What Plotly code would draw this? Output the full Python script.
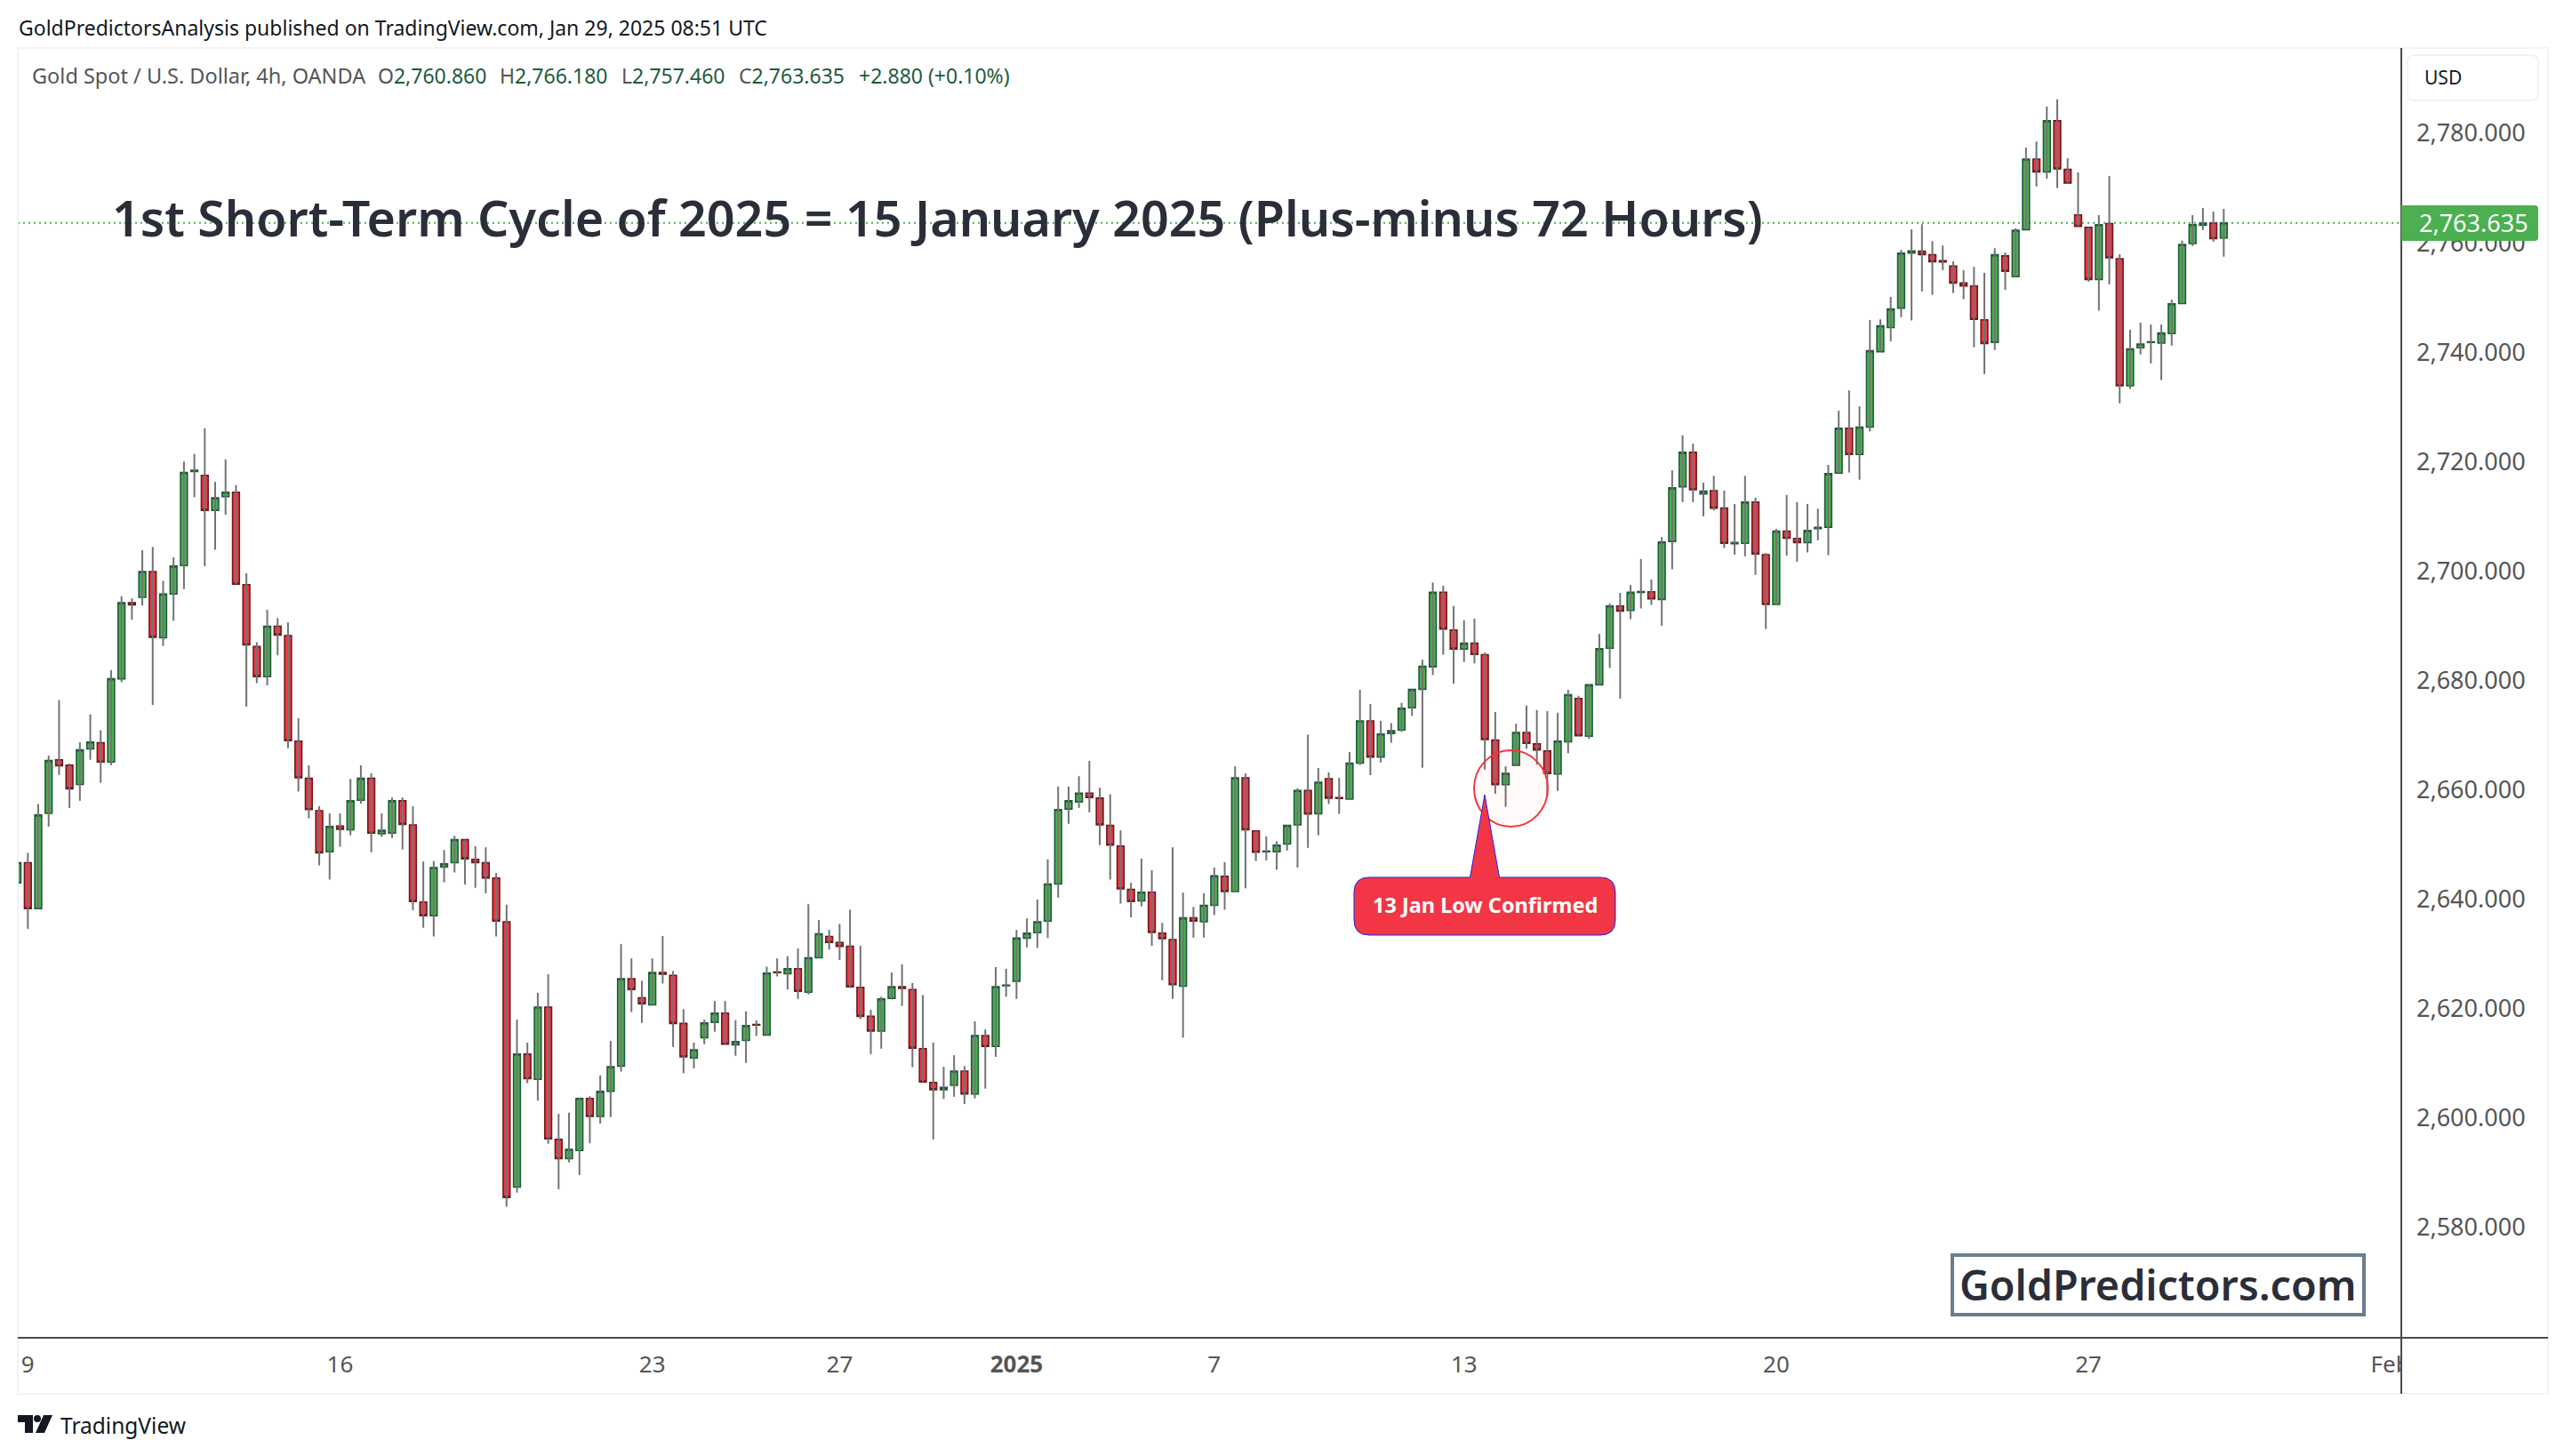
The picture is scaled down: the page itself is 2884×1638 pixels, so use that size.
import plotly.graph_objects as go

# XAUUSD 4h candles
opens = [2643.0,2646.7,2638.3,2655.7,2665.5,2664.5,2661.0,2667.5,2668.6,2665.1,
2680.3,2694.2,2695.2,2699.9,2687.8,2695.8,2701.0,2718.2,2717.5,2711.1,
2713.6,2714.4,2697.5,2686.2,2680.7,2689.9,2688.2,2668.9,2662.1,2656.2,
2648.7,2653.4,2652.7,2658.1,2662.1,2652.0,2652.1,2658.0,2653.6,2639.5,
2637.0,2645.9,2646.7,2650.9,2647.3,2646.7,2643.9,2635.9,2587.4,2611.7,
2607.1,2620.3,2596.1,2592.6,2594.1,2603.6,2600.3,2604.9,2609.5,2625.5,
2622.0,2620.7,2626.6,2626.1,2617.3,2611.0,2614.7,2617.5,2619.2,2613.4,
2614.2,2617.1,2615.2,2626.7,2626.4,2627.3,2623.0,2629.3,2633.2,2632.1,
2631.4,2623.9,2618.6,2615.9,2621.9,2624.0,2623.5,2612.7,2606.5,2605.2,
2606.0,2608.6,2604.4,2615.1,2613.1,2624.2,2625.0,2632.9,2633.9,2636.0,
2642.8,2656.5,2657.8,2659.4,2658.5,2653.5,2649.75,2641.8,2639.7,2641.3,
2633.8,2632.65,2624.1,2636.6,2635.9,2638.9,2644.2,2641.4,2662.2,2652.5,
2648.7,2648.7,2650.1,2653.6,2659.9,2655.65,2662.05,2658.6,2658.3,2664.9,
2672.6,2666.0,2670.3,2670.95,2675.0,2678.4,2682.5,2696.1,2689.2,2685.75,
2686.8,2684.7,2669.1,2660.95,2664.5,2670.5,2668.4,2667.1,2662.9,2668.8,
2676.7,2669.8,2679.2,2685.9,2693.6,2692.8,2696.1,2696.2,2694.8,2705.4,
2715.4,2721.7,2714.1,2714.7,2711.5,2705.0,2705.05,2712.6,2703.0,2693.9,
2707.3,2705.95,2705.2,2707.75,2708.0,2717.9,2726.1,2721.3,2726.3,2740.1,
2744.5,2748.05,2758.1,2758.45,2757.8,2756.7,2755.75,2752.65,2752.1,2745.9,
2741.8,2757.6,2753.8,2762.4,2775.3,2772.95,2782.3,2773.4,2765.1,2762.8,
2753.3,2763.5,2757.1,2733.85,2740.8,2741.8,2741.65,2743.4,2748.9,2759.85,
2763.2,2763.6,2760.86]

highs = [2650.6,2648.5,2657.4,2666.25,2676.4,2664.8,2668.7,2673.8,2670.9,2681.9,
2695.4,2695.0,2703.8,2704.4,2698.2,2702.5,2720.0,2721.4,2726.1,2716.3,
2720.4,2715.7,2699.6,2687.0,2692.9,2691.4,2690.6,2673.1,2664.5,2657.0,
2655.7,2655.7,2662.0,2664.5,2663.0,2655.7,2658.6,2658.6,2657.0,2646.9,
2647.0,2649.0,2651.6,2650.9,2649.7,2649.5,2644.8,2639.0,2618.0,2613.8,
2622.9,2626.3,2600.8,2601.0,2603.8,2604.0,2607.8,2614.1,2631.8,2629.2,
2625.1,2629.2,2633.3,2626.9,2619.9,2613.8,2618.0,2621.4,2621.4,2617.9,
2619.5,2617.9,2627.7,2629.2,2629.6,2631.0,2639.1,2636.2,2634.4,2635.5,
2638.1,2631.5,2619.8,2622.2,2626.6,2628.1,2624.7,2622.5,2613.8,2609.4,
2611.5,2609.5,2617.7,2616.2,2627.6,2627.3,2634.4,2636.5,2639.95,2647.3,
2660.6,2660.6,2662.5,2665.3,2660.4,2659.2,2652.6,2643.0,2647.45,2645.3,
2635.7,2649.5,2641.2,2638.6,2641.1,2645.8,2646.8,2664.3,2663.0,2652.5,
2651.5,2650.6,2653.5,2660.3,2670.1,2664.0,2663.2,2662.2,2666.9,2678.3,
2675.7,2672.6,2672.2,2675.9,2678.35,2683.8,2697.9,2697.3,2693.6,2691.0,
2691.3,2685.1,2674.25,2664.3,2672.1,2675.4,2674.6,2674.4,2674.1,2678.3,
2677.2,2679.3,2688.5,2694.1,2696.0,2697.4,2702.2,2698.45,2706.2,2718.4,
2724.8,2723.3,2716.15,2717.4,2714.7,2712.25,2717.4,2713.4,2703.3,2707.7,
2713.9,2712.6,2712.25,2711.4,2719.4,2729.3,2733.0,2730.1,2745.9,2746.0,
2750.1,2758.7,2762.45,2763.4,2760.3,2759.5,2756.6,2755.0,2755.6,2754.5,
2759.0,2758.2,2762.65,2777.4,2778.5,2784.9,2786.2,2775.45,2772.85,2762.8,
2765.05,2772.2,2757.9,2744.1,2745.4,2745.05,2745.05,2749.6,2760.4,2765.05,
2766.35,2765.7,2766.18]

lows = [2627.5,2634.6,2638.3,2653.3,2662.75,2656.7,2658.0,2665.5,2661.3,2664.5,
2679.7,2691.1,2693.7,2675.5,2686.3,2690.9,2696.7,2713.5,2700.9,2703.9,
2710.3,2697.6,2675.2,2679.5,2679.1,2684.6,2667.6,2659.7,2654.8,2646.2,
2643.6,2649.6,2651.7,2657.5,2648.6,2651.4,2651.2,2649.1,2638.0,2634.8,
2633.2,2643.1,2644.9,2642.7,2642.1,2641.1,2633.2,2583.8,2586.4,2606.4,
2603.2,2595.3,2587.0,2591.9,2589.6,2595.4,2599.0,2600.2,2608.5,2619.4,
2617.4,2620.7,2624.6,2613.0,2608.2,2609.1,2613.5,2615.8,2613.5,2611.4,
2610.1,2615.0,2615.2,2625.9,2623.5,2621.8,2622.6,2629.3,2630.8,2628.9,
2623.8,2618.1,2611.7,2612.7,2621.7,2620.5,2609.3,2606.6,2596.1,2603.5,
2603.9,2602.6,2603.6,2605.4,2611.2,2622.2,2621.8,2631.2,2631.1,2632.9,
2640.3,2653.8,2656.7,2655.9,2649.9,2643.6,2639.2,2636.7,2638.7,2631.5,
2625.2,2621.8,2614.7,2633.0,2633.0,2637.1,2638.1,2641.4,2642.0,2647.0,
2647.1,2645.4,2648.9,2645.8,2649.4,2651.7,2657.4,2655.6,2658.3,2664.55,
2662.7,2665.0,2668.6,2670.6,2673.5,2664.05,2681.0,2684.7,2679.4,2683.4,
2683.1,2663.7,2659.3,2656.9,2664.5,2667.5,2664.6,2659.0,2659.8,2666.7,
2669.9,2669.3,2679.2,2682.3,2676.7,2691.2,2693.15,2693.8,2690.0,2700.3,
2712.6,2712.6,2710.0,2711.1,2704.2,2703.0,2702.7,2699.3,2689.4,2693.9,
2702.8,2701.7,2703.4,2705.6,2702.9,2717.9,2718.0,2716.7,2725.5,2740.1,
2742.0,2746.4,2745.8,2751.1,2750.5,2755.0,2750.8,2749.7,2740.9,2736.0,
2740.4,2751.4,2753.8,2762.4,2770.3,2771.7,2770.0,2770.9,2763.0,2752.9,
2747.6,2752.4,2730.65,2733.3,2739.6,2737.95,2734.9,2741.2,2748.9,2759.4,
2762.3,2760.2,2757.46]

closes = [2646.7,2638.3,2655.4,2665.35,2664.4,2660.2,2667.3,2668.75,2665.1,2680.3,
2694.2,2693.8,2699.9,2687.9,2695.8,2700.9,2718.0,2718.4,2711.1,2713.4,
2714.4,2697.6,2686.5,2680.7,2689.9,2688.3,2669.0,2662.2,2656.4,2648.5,
2653.3,2652.8,2658.0,2662.1,2652.1,2652.6,2658.0,2653.7,2639.6,2637.0,
2645.8,2646.5,2650.9,2647.4,2646.7,2643.9,2636.0,2585.5,2611.7,2607.2,
2620.3,2596.2,2592.6,2594.3,2603.6,2600.3,2604.9,2609.4,2625.5,2623.5,
2620.9,2626.6,2626.3,2617.3,2611.2,2612.5,2617.4,2619.2,2613.5,2614.0,
2616.9,2617.0,2626.5,2626.6,2627.3,2623.2,2629.3,2633.7,2632.1,2631.4,
2624.0,2618.6,2615.9,2621.8,2624.0,2623.7,2612.8,2606.6,2605.2,2605.6,
2608.6,2604.4,2615.1,2613.1,2624.0,2624.3,2632.9,2633.8,2635.9,2642.8,
2656.4,2658.0,2659.4,2658.6,2653.6,2649.9,2641.9,2639.6,2641.3,2633.95,
2632.8,2624.4,2636.6,2636.0,2638.9,2644.3,2641.4,2662.2,2652.7,2648.6,
2648.8,2649.9,2653.5,2659.9,2655.6,2661.4,2658.5,2658.45,2664.9,2672.6,
2666.0,2670.2,2670.8,2674.9,2678.35,2682.6,2696.1,2689.4,2685.75,2686.8,
2684.75,2669.2,2660.95,2663.0,2670.5,2668.5,2667.3,2663.0,2668.9,2677.4,
2669.9,2679.2,2685.8,2693.6,2692.7,2696.1,2696.25,2694.9,2705.3,2715.2,
2721.7,2714.85,2714.6,2711.5,2705.05,2705.2,2712.6,2703.1,2693.9,2707.3,
2706.0,2705.2,2707.4,2707.97,2717.8,2726.1,2721.3,2726.3,2740.25,2744.8,
2747.9,2758.1,2758.5,2757.85,2756.55,2756.5,2752.65,2752.1,2746.0,2741.6,
2757.8,2754.8,2762.3,2775.3,2772.95,2782.3,2773.5,2770.9,2763.0,2753.3,
2763.3,2757.25,2733.85,2740.6,2741.5,2741.9,2743.5,2748.85,2759.7,2763.3,
2763.6,2760.75,2763.635]

tick_bars = [1, 31, 61, 79, 96, 115, 139, 169, 199, 228]
tick_labels = ['9', '16', '23', '27', '<b>2025</b>', '7', '13', '20', '27', 'Feb']
price_ticks = [2580, 2600, 2620, 2640, 2660, 2680, 2700, 2720, 2740, 2760, 2780]
last_price = 2763.635

FONT = 'Noto Sans'
GREEN = '#4caf50'
RED = '#f23645'
GRAY = '#555555'

# picture pixels to paper coordinates (plot area is 20..2701 by 54..1505)
def px(v):
    return (v - 20) / 2681

def py(v):
    return (1505 - v) / 1451

def rounded(x0, y0, x1, y1, r, left=True):
    rl = r if left else 0
    return (f'M {px(x0+rl)} {py(y0)} L {px(x1-r)} {py(y0)} Q {px(x1)} {py(y0)} {px(x1)} {py(y0+r)} '
            f'L {px(x1)} {py(y1-r)} Q {px(x1)} {py(y1)} {px(x1-r)} {py(y1)} L {px(x0+rl)} {py(y1)} '
            f'Q {px(x0)} {py(y1)} {px(x0)} {py(y1-rl)} L {px(x0)} {py(y0+rl)} Q {px(x0)} {py(y0)} {px(x0+rl)} {py(y0)} Z')

def label(text, x, y, size, color, anchor='left', weight=None):
    return dict(text=text, xref='paper', yref='paper', x=px(x), y=py(y), xanchor=anchor, yanchor='middle',
                showarrow=False, font=dict(family=FONT, size=size, color=color, weight=weight))

bars = list(range(len(opens)))
wick_x, wick_y = [], []
for i in bars:
    wick_x += [i, i, None]
    wick_y += [lows[i], highs[i], None]

fig = go.Figure()
fig.add_trace(go.Scatter(x=wick_x, y=wick_y, mode='lines', line=dict(color='#737373', width=2), hoverinfo='skip'))
fig.add_trace(go.Candlestick(
    x=bars, open=opens, close=closes,
    high=[max(a, b) for a, b in zip(opens, closes)],
    low=[min(a, b) for a, b in zip(opens, closes)],
    increasing=dict(fillcolor=GREEN, line=dict(color='#1e5b3a', width=1.6)),
    decreasing=dict(fillcolor=RED, line=dict(color='#6d1a1c', width=1.6)),
))

shapes = [
    # price line under the candles
    dict(type='line', xref='paper', yref='y', x0=0, x1=1, y0=last_price, y1=last_price, layer='below',
         line=dict(color=GREEN, width=2, dash='2px,4px')),
    # frame and axis lines
    dict(type='rect', xref='paper', yref='paper', x0=px(20), x1=px(2866), y0=py(54), y1=py(1568),
         line=dict(color='#f0f3fa', width=2)),
    # hides what runs past the axis at the bottom right ("Feb")
    dict(type='rect', xref='paper', yref='paper', x0=px(2702), x1=px(2865), y0=py(1506), y1=py(1567),
         fillcolor='white', line=dict(width=0)),
    dict(type='line', xref='paper', yref='paper', x0=px(20), x1=px(2866), y0=py(1505), y1=py(1505),
         line=dict(color='#4a4a4a', width=2)),
    dict(type='line', xref='paper', yref='paper', x0=px(2701), x1=px(2701), y0=py(54), y1=py(1568),
         line=dict(color='#4a4a4a', width=2)),
    # USD box
    dict(type='path', xref='paper', yref='paper', path=rounded(2708, 62, 2855, 113, 8),
         line=dict(color='#f0f3fa', width=2), fillcolor='white'),
    # last price tag
    dict(type='path', xref='paper', yref='paper', path=rounded(2701, 231, 2855, 271, 4, left=False),
         line=dict(width=0), fillcolor=GREEN),
    # circle round the low
    dict(type='circle', xref='paper', yref='paper', x0=px(1658), x1=px(1741), y0=py(844), y1=py(930),
         line=dict(color=RED, width=2), fillcolor='rgba(242,54,69,0.03)'),
    # callout
    dict(type='path', xref='paper', yref='paper',
         path=f'M {px(1653.5)} {py(987)} L {px(1670)} {py(894)} L {px(1686.5)} {py(987)} Z',
         line=dict(color='#2222ee', width=1), fillcolor=RED),
    dict(type='path', xref='paper', yref='paper', path=rounded(1523, 987, 1817, 1052, 17),
         line=dict(color='#2222ee', width=1), fillcolor=RED),
    dict(type='line', xref='paper', yref='paper', x0=px(1654), x1=px(1686), y0=py(987), y1=py(987),
         line=dict(color=RED, width=2)),
    # watermark box
    dict(type='rect', xref='paper', yref='paper', x0=px(2196), x1=px(2659), y0=py(1412), y1=py(1479),
         line=dict(color='#6a7d8e', width=4), fillcolor='white'),
    # TradingView mark
    dict(type='path', xref='paper', yref='paper', fillcolor='#131722', line=dict(width=0),
         path=f'M {px(20)} {py(1592)} L {px(37)} {py(1592)} L {px(37)} {py(1612)} L {px(28)} {py(1612)} '
              f'L {px(28)} {py(1600)} L {px(20)} {py(1600)} Z'),
    dict(type='circle', xref='paper', yref='paper', fillcolor='#131722', line=dict(width=0),
         x0=px(38), x1=px(46), y0=py(1592), y1=py(1600)),
    dict(type='path', xref='paper', yref='paper', fillcolor='#131722', line=dict(width=0),
         path=f'M {px(49)} {py(1592)} L {px(59)} {py(1592)} L {px(50)} {py(1612)} L {px(40)} {py(1612)} Z'),
]

annotations = [
    label('GoldPredictorsAnalysis published on TradingView.com, Jan 29, 2025 08:51 UTC', 19, 31, 23, '#131722'),
    label('Gold Spot / U.S. Dollar, 4h, OANDA', 34, 85, 23.5, GRAY),
    label('O<span style="color:#1e5b3a">2,760.860</span>', 423, 85, 23, GRAY),
    label('H<span style="color:#1e5b3a">2,766.180</span>', 560, 85, 23, GRAY),
    label('L<span style="color:#1e5b3a">2,757.460</span>', 697, 85, 23, GRAY),
    label('C<span style="color:#1e5b3a">2,763.635</span>', 829, 85, 23, GRAY),
    label('+2.880 (+0.10%)', 964, 85, 23, '#1e5b3a'),
    label('1st Short-Term Cycle of 2025 = 15 January 2025 (Plus-minus 72 Hours)', 124, 244, 55.6, '#2a2e39', weight=600),
    label('USD', 2725, 87, 21, '#131722'),
    label(f'{last_price:,.3f}', 2719, 250, 27, 'white'),
    label('13 Jan Low Confirmed', 1670, 1018, 23.5, 'white', anchor='center', weight=700),
    label('GoldPredictors.com', 2427, 1445, 46.6, '#2a2e39', anchor='center', weight=600),
    label('TradingView', 66, 1603, 24.5, '#131722'),
]

fig.update_layout(
    width=2884, height=1638, autosize=False,
    margin=dict(l=20, r=183, t=54, b=133),
    paper_bgcolor='white', plot_bgcolor='white',
    showlegend=False, shapes=shapes, annotations=annotations,
    font=dict(family=FONT, color=GRAY, size=26),
    boxgap=0.06, boxgroupgap=0.3,
    xaxis=dict(range=[0.034, 229.06], rangeslider=dict(visible=False), showgrid=False, zeroline=False,
               tickmode='array', tickvals=tick_bars, ticktext=tick_labels, ticklen=0,
               tickfont=dict(size=26, color=GRAY), ticklabelstandoff=12),
    yaxis=dict(range=[2559.85, 2795.6], side='right', showgrid=False, zeroline=False,
               tickmode='array', tickvals=price_ticks, tickformat=',.3f', ticklen=0,
               tickfont=dict(size=27, color=GRAY), ticklabelstandoff=16),
)

# the page's default body margin would push everything 8px down and right
fig.write_html("out.html", config=dict(displayModeBar=False), post_script="document.body.style.margin='0';")
